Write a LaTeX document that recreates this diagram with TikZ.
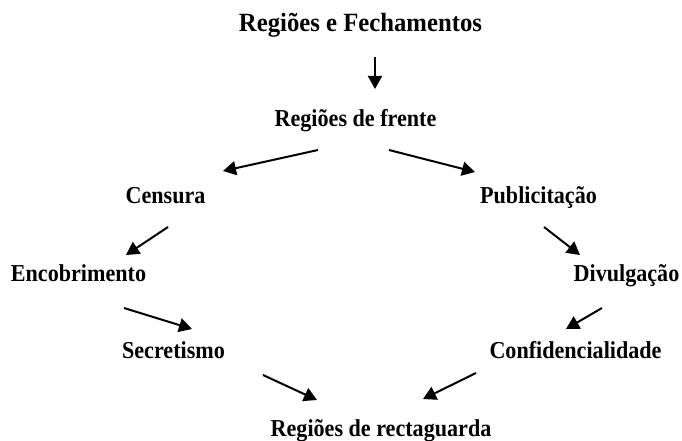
\documentclass[tikz,border=0pt]{standalone}
\usepackage{fontspec}
\setmainfont{Liberation Serif}
\newfontfamily\lblfont[FakeStretch=0.91]{Liberation Serif}
\newfontfamily\ttlfont[FakeStretch=0.94]{Liberation Serif}
\usetikzlibrary{arrows.meta}
\begin{document}
\begin{tikzpicture}[x=1pt,y=-1pt,
  lbl/.style={anchor=base,inner sep=0pt,font=\lblfont\fontsize{24.3}{26}\selectfont\bfseries},
  ttl/.style={anchor=base,inner sep=0pt,font=\ttlfont\fontsize{26.3}{28}\selectfont\bfseries},
  arr/.style={line width=2pt,-{Triangle[length=13pt,width=14pt]}}]
\useasboundingbox[fill=white] (0,0) rectangle (682,441);
\node[ttl] (title) at (360.5,32) {Regiões e Fechamentos};
\node[lbl] (front) at (355.5,126) {Regiões de frente};
\node[lbl] (cens) at (165.5,203) {Censura};
\node[lbl] (pub) at (538.5,203) {Publicitação};
\node[lbl] (enc) at (78.5,281) {Encobrimento};
\node[lbl] (div) at (626.5,281) {Divulgação};
\node[lbl] (sec) at (173.5,358) {Secretismo};
\node[lbl] (conf) at (575.5,358) {Confidencialidade};
\node[lbl] (rr) at (381,436) {Regiões de rectaguarda};
% arrow end points
\coordinate (t-s) at (375,57);   \coordinate (t-e) at (375,89);
\coordinate (fl-s) at (318,150); \coordinate (fl-e) at (223,171);
\coordinate (fr-s) at (389,150); \coordinate (fr-e) at (475,172);
\coordinate (ce-s) at (168,227); \coordinate (ce-e) at (126,255);
\coordinate (pd-s) at (544,227); \coordinate (pd-e) at (580,255);
\coordinate (es-s) at (124,308); \coordinate (es-e) at (192,329);
\coordinate (dc-s) at (602,308); \coordinate (dc-e) at (566,329);
\coordinate (sr-s) at (263,375); \coordinate (sr-e) at (317,400);
\coordinate (cr-s) at (476,373); \coordinate (cr-e) at (423,399);
\draw[arr] (t-s) -- (t-e);
\draw[arr] (fl-s) -- (fl-e);
\draw[arr] (fr-s) -- (fr-e);
\draw[arr] (ce-s) -- (ce-e);
\draw[arr] (pd-s) -- (pd-e);
\draw[arr] (es-s) -- (es-e);
\draw[arr] (dc-s) -- (dc-e);
\draw[arr] (sr-s) -- (sr-e);
\draw[arr] (cr-s) -- (cr-e);
\end{tikzpicture}
\end{document}
